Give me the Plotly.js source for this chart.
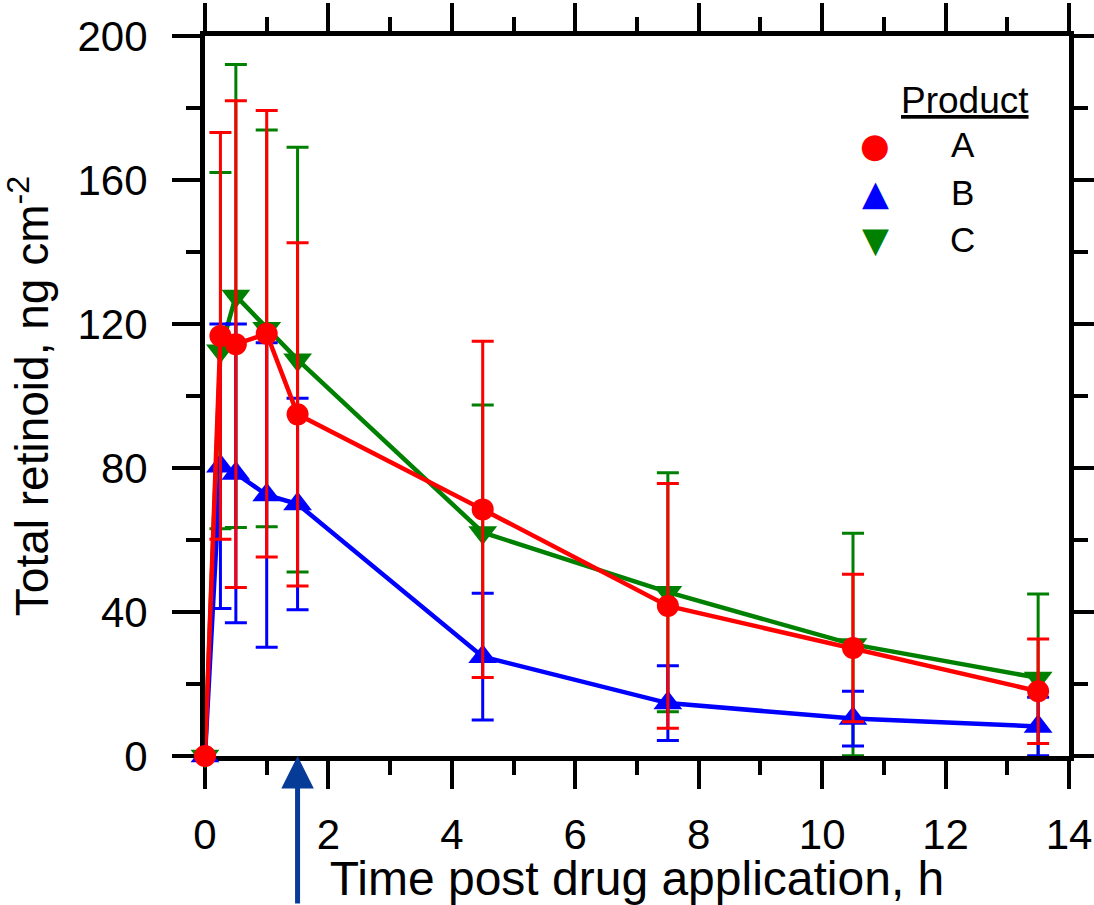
<!DOCTYPE html>
<html>
<head>
<meta charset="utf-8">
<script src="https://cdn.plot.ly/plotly-3.0.1.min.js"></script>
<style>
  html, body { margin: 0; padding: 0; background: #ffffff; }
  #chart { width: 1094px; height: 905px; }
</style>
</head>
<body>
<div id="chart"></div>
<script>
// Sampling times (h) after drug application
const timeHours = [0, 0.25, 0.5, 1, 1.5, 4.5, 7.5, 10.5, 13.5];

// Mean total retinoid (ng cm^-2) per product
const productA = [0, 116.7, 114.4, 117.3, 94.9, 68.5, 41.7, 30.0, 18.0];
const productB = [0, 80.5, 78.5, 72.5, 70.0, 27.6, 14.7, 10.4, 8.2];
const productC = [0, 112.6, 127.8, 118.8, 110.1, 62.1, 45.5, 31.0, 21.7];

// Error bar half-widths (ng cm^-2)
const errorA = [0, 56.5, 67.6, 62.0, 47.7, 46.7, 34.0, 20.5, 14.5];
const errorB = [0, 39.5, 41.5, 42.3, 29.4, 17.6, 10.4, 7.6, 8.1];
const errorC = [0, 49.5, 64.3, 55.1, 59.0, 35.4, 33.2, 30.9, 23.3];

// Product names and colours for the key
const productNames = ['A', 'B', 'C'];
const productColors = ['#ff0000', '#0000ff', '#008000'];
const productGlyphs = ['\u25CF', '\u25B2', '\u25BC'];

// Time of the marked event on the time axis
const markerTime = 1.5;

const xTicks = [0, 2, 4, 6, 8, 10, 12, 14];
const yTicks = [0, 40, 80, 120, 160, 200];

const FONT = 'Liberation Sans, Arial, sans-serif';
const GLYPH_FONT = 'DejaVu Sans, sans-serif';

function series(name, y, err, color, symbol, size) {
  return {
    x: timeHours,
    y: y,
    name: name,
    type: 'scatter',
    mode: 'lines+markers',
    cliponaxis: false,
    showlegend: false,
    line: { color: color, width: 4.5 },
    marker: { color: color, symbol: symbol, size: size },
    error_y: { type: 'data', array: err, visible: true, color: color, thickness: 3, width: 11 },
    hoverinfo: 'skip'
  };
}

// Drawing order: C underneath, A on top
const traces = [
  series(productNames[2], productC, errorC, productColors[2], 'triangle-down', 25),
  series(productNames[1], productB, errorB, productColors[1], 'triangle-up', 25),
  series(productNames[0], productA, errorA, productColors[0], 'circle', 22)
];

const axisCommon = {
  showline: true,
  linecolor: '#000000',
  linewidth: 5,
  mirror: 'allticks',
  ticks: 'outside',
  ticklen: 28,
  tickwidth: 4,
  tickcolor: '#000000',
  showgrid: false,
  zeroline: false,
  layer: 'below traces',
  tickfont: { family: FONT, size: 42, color: '#000000' }
};

// Key: underlined heading, then one row per product
const keyGlyphX = 0.7755;
const keyLabelX = 0.877;
const keyRowsY = [0.849, 0.782, 0.717];
const glyphSizes = [34, 35, 35];

function keyText(x, y, text, font) {
  return {
    x: x, y: y, xref: 'paper', yref: 'paper',
    xanchor: 'center', yanchor: 'middle',
    text: text, showarrow: false, font: font
  };
}

const keyAnnotations = [
  keyText(0.8796, 0.911, '<u>Product</u>', { family: FONT, size: 37, color: '#000000' })
];
productNames.forEach(function (name, i) {
  keyAnnotations.push(keyText(keyGlyphX, keyRowsY[i], productGlyphs[i],
    { family: GLYPH_FONT, size: glyphSizes[i], color: productColors[i] }));
  keyAnnotations.push(keyText(keyLabelX, keyRowsY[i], name,
    { family: FONT, size: 35, color: '#000000' }));
});

const layout = {
  width: 1094,
  height: 905,
  margin: { l: 205, r: 25, t: 36, b: 149 },
  paper_bgcolor: '#ffffff',
  plot_bgcolor: '#ffffff',
  font: { family: FONT, color: '#000000' },
  showlegend: false,
  xaxis: Object.assign({}, axisCommon, {
    range: [0, 14],
    tickvals: xTicks,
    ticktext: xTicks.map(String),
    ticklabelstandoff: 10,
    minor: { dtick: 1, tick0: 0, ticks: 'outside', ticklen: 14, tickwidth: 4, tickcolor: '#000000' },
    title: { text: 'Time post drug application, h', font: { family: FONT, size: 48, color: '#000000' }, standoff: 3 }
  }),
  yaxis: Object.assign({}, axisCommon, {
    range: [0, 200],
    tickvals: yTicks,
    ticktext: yTicks.map(String),
    ticklabelstandoff: 16,
    minor: { dtick: 20, tick0: 0, ticks: 'outside', ticklen: 14, tickwidth: 4, tickcolor: '#000000' },
    title: { text: 'Total retinoid, ng cm<sup>-2</sup>', font: { family: FONT, size: 46, color: '#000000' }, standoff: 18 }
  }),
  annotations: keyAnnotations.concat([{
    x: markerTime,
    xref: 'x',
    y: 0,
    yref: 'paper',
    text: '',
    showarrow: true,
    ax: 0,
    ay: 150,
    arrowhead: 2,
    arrowsize: 1.3,
    arrowwidth: 5,
    arrowcolor: '#073b98'
  }])
};

Plotly.newPlot('chart', traces, layout, { displayModeBar: false, staticPlot: true });
</script>
</body>
</html>
